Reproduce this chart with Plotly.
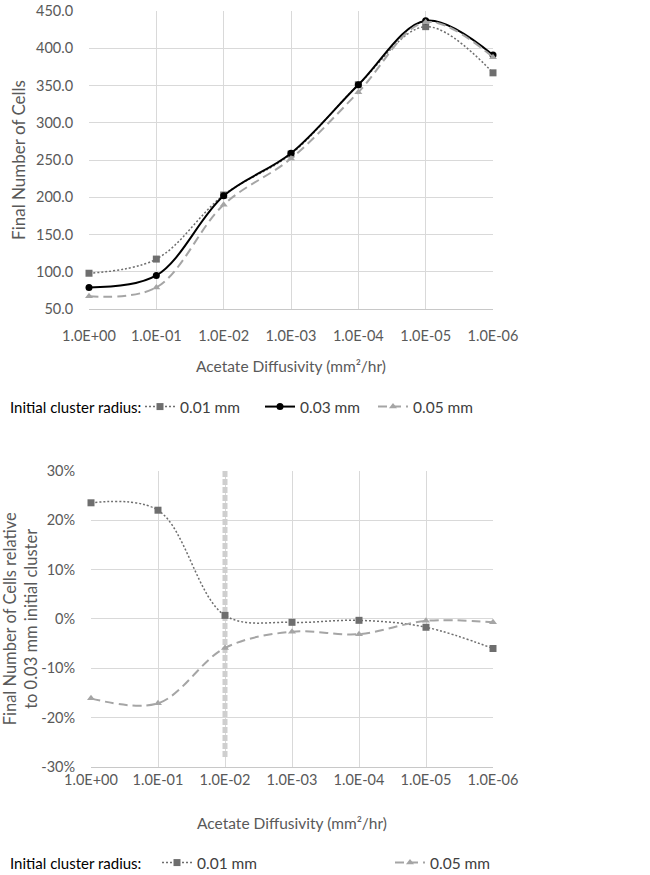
import plotly.graph_objects as go

categories = ["1.0E+00", "1.0E-01", "1.0E-02", "1.0E-03", "1.0E-04", "1.0E-05", "1.0E-06"]
cells_001 = [98, 117, 203, 258, 351, 429, 367]
cells_003 = [79, 95, 202, 259, 351, 437, 391]
cells_005 = [67, 79, 190, 252, 341, 435, 388]
rel_001 = [0.235, 0.220, 0.007, -0.007, -0.003, -0.017, -0.060]
rel_005 = [-0.161, -0.171, -0.059, -0.026, -0.031, -0.004, -0.007]
y_top_ticks = [50, 100, 150, 200, 250, 300, 350, 400, 450]
y_bot_ticks = [-0.3, -0.2, -0.1, 0.0, 0.1, 0.2, 0.3]
y_bot_labels = ["-30%", "-20%", "-10%", "0%", "10%", "20%", "30%"]

xpos = list(range(len(categories)))
FONT = "Lato"
TICKC = "#595959"
GRID = "#d9d9d9"
C1, C3, C5 = "#6e6e6e", "#000000", "#a5a5a5"

W, H = 650, 875
ML, MR, MT, MB = 89, 157, 11, 108
PW, PH = W - ML - MR, H - MT - MB

fig = go.Figure()

def add(x, y, name, color, dash, symbol, msize, width, xa, ya, legend):
    fig.add_trace(go.Scatter(
        x=x, y=y, name=name, mode="lines+markers",
        line=dict(color=color, dash=dash, width=width, shape="spline", smoothing=1.0),
        marker=dict(symbol=symbol, size=msize, color=color),
        xaxis=xa, yaxis=ya, legend=legend, cliponaxis=False, showlegend=True,
    ))

add(xpos, cells_001, "0.01 mm", C1, "2px,2px", "square", 7, 1.5, "x", "y", "legend")
add(xpos, cells_003, "0.03 mm", C3, "solid", "circle", 7, 2, "x", "y", "legend2")
add(xpos, cells_005, "0.05 mm", C5, "9px,5px", "triangle-up", 7, 2, "x", "y", "legend3")

add(xpos, rel_001, "0.01 mm", C1, "2px,2px", "square", 7, 1.5, "x2", "y2", "legend4")
add(xpos, rel_005, "0.05 mm", C5, "9px,5px", "triangle-up", 7, 2, "x2", "y2", "legend5")

TICKF = dict(family=FONT, size=14.5, color=TICKC)
xcommon = dict(showgrid=True, gridcolor=GRID, gridwidth=1, zeroline=False,
               tickfont=TICKF, ticks="", range=[0, 6], tickmode="array",
               tickvals=xpos, ticktext=categories, showline=True, linecolor="#c8c8c8")
ycommon = dict(showgrid=True, gridcolor=GRID, gridwidth=1, zeroline=False,
               tickfont=TICKF, ticks="outside", ticklen=12, tickcolor="rgba(0,0,0,0)",
               showline=False, tickmode="array", ticklabeloverflow="allow")

def leg(xpx, ypx):
    return dict(orientation="h", xref="container", yref="container", x=xpx / W, y=1 - ypx / H,
                xanchor="left", yanchor="middle", visible=True,
                font=dict(family=FONT, size=15.5, color="#404040"),
                bgcolor="rgba(0,0,0,0)")

fig.update_layout(
    width=W, height=H, showlegend=True,
    paper_bgcolor="white", plot_bgcolor="white",
    margin=dict(l=ML, r=MR, t=MT, b=MB, autoexpand=False),
    font=dict(family=FONT, color=TICKC),
    xaxis=dict(domain=[0, 1], anchor="y", ticklabelstandoff=14,
               title=dict(text="Acetate Diffusivity (mm²/hr)", standoff=17,
                          font=dict(family=FONT, size=15.5, color=TICKC)),
               **xcommon),
    yaxis=dict(domain=[(767 - 309) / PH, 1.0], anchor="x", range=[50, 450],
               tickvals=y_top_ticks, tickformat=".1f",
               title=dict(text="Final Number of Cells", standoff=6,
                          font=dict(family=FONT, size=17, color=TICKC)),
               **ycommon),
    xaxis2=dict(domain=[2 / PW, 1], anchor="y2",
                title=dict(text="Acetate Diffusivity (mm²/hr)", standoff=30,
                           font=dict(family=FONT, size=15.5, color=TICKC)),
                **xcommon),
    yaxis2=dict(domain=[0.0, (767 - 470.7) / PH], anchor="x2", range=[-0.3, 0.3],
                tickvals=y_bot_ticks, ticktext=y_bot_labels,
                title=dict(text="Final Number of Cells relative<br>to 0.03 mm initial cluster",
                           standoff=2, font=dict(family=FONT, size=16.5, color=TICKC)),
                **ycommon),
    legend=leg(140, 407),
    legend2=leg(260, 407),
    legend3=leg(373, 407),
    legend4=leg(157, 863),
    legend5=leg(390, 863),
    annotations=[
        dict(text="Initial cluster radius:", xref="paper", yref="paper",
             x=(8 - ML) / PW, y=(767 - 407) / PH, xanchor="left", yanchor="middle",
             showarrow=False, font=dict(family=FONT, size=15, color="#000000")),
        dict(text="Initial cluster radius:", xref="paper", yref="paper",
             x=(8 - ML) / PW, y=(767 - 863) / PH, xanchor="left", yanchor="middle",
             showarrow=False, font=dict(family=FONT, size=15, color="#000000")),
    ],
    shapes=[dict(type="line", xref="x2", yref="y2", x0=2, x1=2, y0=-0.28, y1=0.3,
                 line=dict(color="#cfcfcf", width=5, dash="6px,2px"), layer="between")],
)

fig.write_html("out.html", config={"displayModeBar": False},
               post_script="document.body.style.margin='0px';")
